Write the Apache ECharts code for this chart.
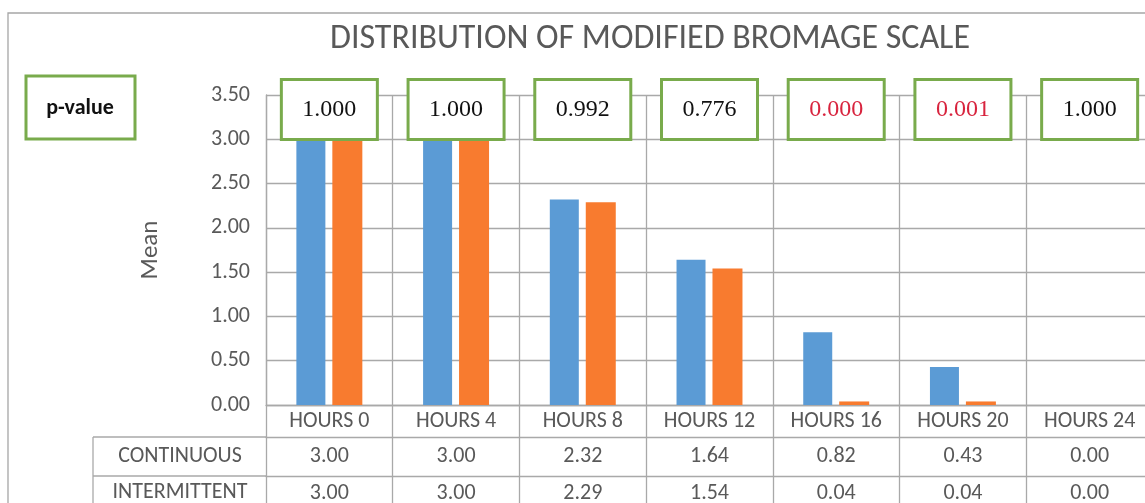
<!DOCTYPE html>
<html>
<head>
<meta charset="utf-8">
<script src="https://cdn.jsdelivr.net/npm/echarts@6/dist/echarts.min.js"></script>
<style>
html,body{margin:0;padding:0;background:#fff;}
#c{width:1145px;height:503px;}
</style>
</head>
<body>
<div id="c"></div>
<script>
var categories = ['HOURS 0','HOURS 4','HOURS 8','HOURS 12','HOURS 16','HOURS 20','HOURS 24'];
var continuous = [3.00, 3.00, 2.32, 1.64, 0.82, 0.43, 0.00];
var intermittent = [3.00, 3.00, 2.29, 1.54, 0.04, 0.04, 0.00];
var pValues = ['1.000','1.000','0.992','0.776','0.000','0.001','1.000'];
var yTicks = {min: 0, max: 3.5, interval: 0.5};
var seriesNames = ['CONTINUOUS','INTERMITTENT'];

var FONT = 'Carlito, Lato, sans-serif';
var GRID_C = '#a9a9a9';
var TXT = '#595959';
var FS = 22;
var chart = echarts.init(document.getElementById('c'));

function tableAxis(values, offset, margin, showLine) {
  return {
    type: 'category', data: categories, position: 'bottom', offset: offset,
    axisLine: {show: showLine, lineStyle: {color: GRID_C, width: 1.3}},
    axisTick: {show: false}, splitLine: {show: false},
    axisLabel: {
      interval: 0, margin: margin, fontFamily: FONT, fontSize: FS, color: TXT,
      formatter: function (v, i) { return values[i].toFixed(2); }
    }
  };
}

var option = {
  animation: false,
  title: {
    text: 'DISTRIBUTION OF MODIFIED BROMAGE SCALE',
    left: 645, textAlign: 'center', top: 17,
    textStyle: {fontFamily: FONT, fontWeight: 'normal', fontSize: 34, color: TXT}
  },
  grid: {left: 266, top: 95, width: 887, height: 310, containLabel: false, outerBoundsMode: 'none'},
  xAxis: [
    {
      type: 'category', data: categories, position: 'bottom',
      axisLine: {show: true, lineStyle: {color: GRID_C, width: 1.3}},
      axisTick: {show: true, interval: 0, length: 110, lineStyle: {color: GRID_C, width: 1.3}},
      splitLine: {show: true, interval: 0, lineStyle: {color: GRID_C, width: 1.3}},
      axisLabel: {interval: 0, margin: 5, fontFamily: FONT, fontSize: FS, color: TXT}
    },
    tableAxis(continuous, 32, 8, true),
    tableAxis(intermittent, 71, 6, true),
    {
      type: 'category', data: categories, position: 'top', z: 10,
      axisLine: {show: false}, axisTick: {show: false}, splitLine: {show: false},
      axisLabel: {
        interval: 0, margin: -43,
        formatter: function (v, i) {
          var p = pValues[i];
          return (parseFloat(p) < 0.05 ? '{r|' : '{k|') + p + '}';
        },
        backgroundColor: '#fff', borderColor: '#79ab4c', borderWidth: 3,
        width: 93, height: 57, padding: 0,
        rich: {
          k: {fontFamily: 'Liberation Serif, serif', fontSize: 24, color: '#111', width: 93, height: 57, lineHeight: 57, align: 'center'},
          r: {fontFamily: 'Liberation Serif, serif', fontSize: 24, color: '#d8243e', width: 93, height: 57, lineHeight: 57, align: 'center'}
        }
      }
    }
  ],
  yAxis: {
    type: 'value', min: yTicks.min, max: yTicks.max, interval: yTicks.interval,
    name: 'Mean', nameLocation: 'middle', nameGap: 103, nameRotate: 90,
    nameTextStyle: {fontFamily: FONT, fontSize: 25, color: TXT},
    axisLine: {show: true, lineStyle: {color: GRID_C, width: 1.3}},
    axisTick: {show: false},
    splitLine: {show: true, lineStyle: {color: GRID_C, width: 1.3}},
    axisLabel: {margin: 16, fontFamily: FONT, fontSize: FS, color: TXT,
      formatter: function (v) { return v.toFixed(2); }}
  },
  series: [
    {name: seriesNames[0], type: 'bar', data: continuous, barWidth: 29, barGap: '24%',
      itemStyle: {color: '#5b9bd5'}},
    {name: seriesNames[1], type: 'bar', data: intermittent, barWidth: 30,
      itemStyle: {color: '#f87b2f'}}
  ],
  graphic: [
    {type: 'rect', shape: {x: 8, y: 13, width: 1200, height: 600}, silent: true, z: -10,
      style: {fill: 'none', stroke: '#a6a6a6', lineWidth: 1.3}},
    {type: 'line', shape: {x1: 93, y1: 437, x2: 266, y2: 437}, style: {stroke: GRID_C, lineWidth: 1.3}},
    {type: 'line', shape: {x1: 93, y1: 476, x2: 266, y2: 476}, style: {stroke: GRID_C, lineWidth: 1.3}},
    {type: 'line', shape: {x1: 93, y1: 437, x2: 93, y2: 520}, style: {stroke: GRID_C, lineWidth: 1.3}},
    {type: 'text', x: 180, y: 456, style: {text: seriesNames[0], fontFamily: FONT, fontSize: FS, fill: TXT, align: 'center', verticalAlign: 'middle'}},
    {type: 'text', x: 180, y: 492, style: {text: seriesNames[1], fontFamily: FONT, fontSize: FS, fill: TXT, align: 'center', verticalAlign: 'middle'}},
    {type: 'rect', shape: {x: 26, y: 76, width: 109, height: 63},
      style: {fill: '#fff', stroke: '#79ab4c', lineWidth: 3}},
    {type: 'text', x: 80, y: 108, style: {text: 'p-value', fontFamily: FONT, fontWeight: 'bold', fontSize: 22, fill: '#111', align: 'center', verticalAlign: 'middle'}}
  ]
};
chart.setOption(option);
</script>
</body>
</html>
